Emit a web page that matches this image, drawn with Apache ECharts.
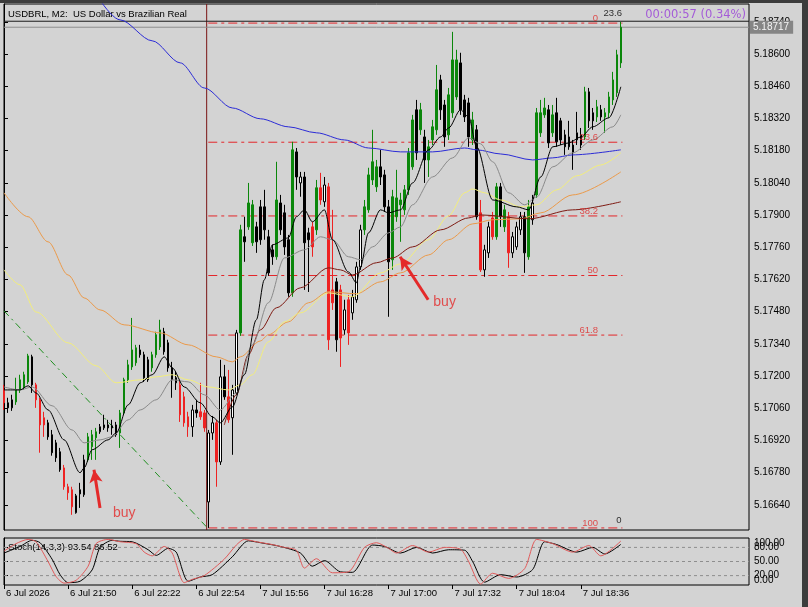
<!DOCTYPE html>
<html><head><meta charset="utf-8">
<script src="https://cdn.jsdelivr.net/npm/echarts@6/dist/echarts.min.js"></script>
<style>html,body{margin:0;padding:0;background:#d3d3d3}#c{width:808px;height:607px}</style>
</head><body><div id="c"></div>
<script>
// ---------- DATA ----------
// candles: [open, close, low, high]
const ohlc = [
[5.17140,5.17084,5.17053,5.17162],[5.17084,5.17062,5.17040,5.17106],[5.17062,5.17097,5.17049,5.17119],[5.17088,5.17140,5.17075,5.17193],[5.17140,5.17184,5.17127,5.17206],
[5.17153,5.17206,5.17140,5.17219],[5.17175,5.17288,5.17166,5.17297],[5.17284,5.17162,5.17127,5.17293],[5.17162,5.17097,5.17062,5.17171],[5.17097,5.16988,5.16867,5.17106],
[5.17019,5.16988,5.16936,5.17045],[5.16997,5.16936,5.16923,5.17010],[5.16945,5.16867,5.16854,5.16966],[5.16910,5.16845,5.16827,5.16923],[5.16871,5.16793,5.16784,5.16888],
[5.16801,5.16719,5.16706,5.16814],[5.16719,5.16693,5.16662,5.16732],[5.16706,5.16632,5.16597,5.16719],[5.16606,5.16680,5.16602,5.16688],[5.16706,5.16688,5.16627,5.16736],
[5.16684,5.16836,5.16675,5.16858],[5.16836,5.16936,5.16827,5.16953],[5.16893,5.16945,5.16836,5.16966],[5.16932,5.16958,5.16836,5.16975],[5.16958,5.16980,5.16949,5.16992],
[5.16975,5.16988,5.16966,5.17032],[5.16988,5.16975,5.16958,5.17010],[5.16984,5.16975,5.16945,5.17010],[5.16988,5.16945,5.16936,5.17001],[5.16953,5.17040,5.16888,5.17053],
[5.17040,5.17184,5.17032,5.17193],[5.17184,5.17249,5.17171,5.17271],[5.17240,5.17314,5.17227,5.17453],[5.17258,5.17323,5.17245,5.17336],[5.17314,5.17293,5.17280,5.17336],
[5.17293,5.17193,5.17175,5.17306],[5.17271,5.17184,5.17175,5.17284],[5.17236,5.17293,5.17219,5.17306],[5.17293,5.17380,5.17280,5.17393],[5.17327,5.17401,5.17314,5.17445],
[5.17393,5.17306,5.17293,5.17410],[5.17345,5.17236,5.17219,5.17358],[5.17236,5.17184,5.17106,5.17262],[5.17193,5.17171,5.17140,5.17219],[5.17162,5.17032,5.17001,5.17184],
[5.17110,5.16997,5.16980,5.17132],[5.17023,5.16980,5.16936,5.17045],[5.16980,5.17053,5.16936,5.17075],[5.17053,5.17040,5.17019,5.17097],[5.17045,5.17023,5.17010,5.17171],
[5.17040,5.16975,5.16958,5.17053],[5.16653,5.16953,5.16540,5.16966],[5.16953,5.16997,5.16923,5.17027],[5.16997,5.16827,5.16719,5.17010],[5.16827,5.17197,5.16814,5.17271],
[5.17197,5.17110,5.17097,5.17249],[5.17110,5.17010,5.16997,5.17227],[5.17019,5.17140,5.16858,5.17162],[5.17127,5.17388,5.17119,5.17401],[5.17388,5.17836,5.17375,5.17858],
[5.17806,5.17784,5.17697,5.17893],[5.17849,5.17953,5.17836,5.18040],[5.17780,5.17945,5.17766,5.17966],[5.17849,5.17784,5.17736,5.17871],[5.17936,5.17793,5.17771,5.17966],
[5.17936,5.17836,5.17793,5.18010],[5.17806,5.17649,5.17636,5.17836],[5.17749,5.17719,5.17684,5.17771],[5.17719,5.17966,5.17706,5.18132],[5.17953,5.17836,5.17814,5.17988],
[5.17910,5.17762,5.17727,5.17945],[5.17793,5.17562,5.17545,5.17814],[5.17562,5.18184,5.17545,5.18219],[5.18175,5.18066,5.18010,5.18192],[5.18040,5.18066,5.17980,5.18088],
[5.18066,5.17780,5.17575,5.18088],[5.17823,5.17793,5.17566,5.17845],[5.17849,5.17762,5.17719,5.17871],[5.17836,5.18019,5.17814,5.18053],[5.18019,5.17966,5.17945,5.18084],
[5.17958,5.18031,5.17936,5.18066],[5.18023,5.17358,5.17314,5.18040],[5.17575,5.17519,5.17488,5.17923],[5.17610,5.17358,5.17306,5.17627],[5.17575,5.17366,5.17240,5.17597],
[5.17401,5.17488,5.17380,5.17532],[5.17532,5.17388,5.17336,5.17553],[5.17475,5.17545,5.17445,5.17575],[5.17532,5.17675,5.17519,5.17697],[5.17675,5.17836,5.17662,5.17858],
[5.17836,5.17936,5.17814,5.17966],[5.17923,5.18075,5.17910,5.18106],[5.18053,5.18132,5.18031,5.18271],[5.18023,5.18110,5.18001,5.18140],[5.18110,5.18066,5.18031,5.18184],
[5.18075,5.17936,5.17914,5.18097],[5.17936,5.17697,5.17458,5.17966],[5.17706,5.17980,5.17662,5.18010],[5.17893,5.17975,5.17871,5.18097],[5.17945,5.17966,5.17784,5.17997],
[5.17923,5.18010,5.17901,5.18031],[5.18010,5.18171,5.17988,5.18192],[5.18110,5.18314,5.18097,5.18336],[5.18358,5.18171,5.18140,5.18401],[5.18271,5.18358,5.18249,5.18388],
[5.18240,5.18140,5.18040,5.18271],[5.18140,5.18197,5.18066,5.18227],[5.18227,5.18284,5.18205,5.18314],[5.18271,5.18445,5.18249,5.18553],[5.18488,5.18358,5.18314,5.18510],
[5.18379,5.18240,5.18197,5.18401],[5.18249,5.18423,5.18227,5.18453],[5.18345,5.18575,5.18323,5.18697],[5.18414,5.18575,5.18401,5.18619],[5.18562,5.18358,5.18336,5.18606],
[5.18401,5.18327,5.18305,5.18423],[5.18388,5.18240,5.18197,5.18410],[5.18227,5.18314,5.18205,5.18349],[5.18271,5.17893,5.17880,5.18292],[5.17910,5.17662,5.17653,5.17966],
[5.17662,5.17749,5.17632,5.17771],[5.17736,5.17849,5.17714,5.17871],[5.17888,5.17806,5.17793,5.17914],[5.17806,5.18023,5.17793,5.18040],[5.18023,5.17893,5.17849,5.18040],
[5.17849,5.17923,5.17827,5.17945],[5.17893,5.17736,5.17671,5.17914],[5.17736,5.17806,5.17714,5.17827],[5.17762,5.17849,5.17749,5.17871],[5.17836,5.17893,5.17814,5.17914],
[5.17893,5.17736,5.17649,5.17914],[5.17719,5.17936,5.17706,5.17966],[5.17880,5.17953,5.17858,5.17988],[5.17988,5.18345,5.17975,5.18366],[5.18258,5.18345,5.18240,5.18401],
[5.18336,5.18366,5.18323,5.18410],[5.18358,5.18214,5.18192,5.18379],[5.18258,5.18336,5.18240,5.18379],[5.18345,5.18219,5.18197,5.18410],[5.18310,5.18227,5.18205,5.18323],
[5.18249,5.18197,5.18162,5.18271],[5.18240,5.18197,5.18184,5.18310],[5.18205,5.18171,5.18097,5.18227],[5.18227,5.18258,5.18205,5.18349],[5.18205,5.18249,5.18184,5.18279],
[5.18240,5.18436,5.18227,5.18458],[5.18436,5.18310,5.18279,5.18453],[5.18345,5.18310,5.18271,5.18366],[5.18327,5.18371,5.18305,5.18401],[5.18358,5.18327,5.18310,5.18379],
[5.18327,5.18345,5.18258,5.18366],[5.18345,5.18414,5.18323,5.18436],[5.18401,5.18488,5.18379,5.18523],[5.18432,5.18597,5.18414,5.18619],[5.18562,5.18717,5.18540,5.18740]
];
// trend signal painted on each bar: 1 up (green), -1 down (red), 0 none
const signal = [
-1,0,0,1,1,1,1,0,-1,-1, -1,0,0,0,0,-1,-1,-1,0,0, 0,1,1,1,0,0,0,0,0,1, 1,1,1,1,0,0,0,1,1,1,
0,0,0,0,-1,-1,-1,0,0,-1, -1,0,0,-1,0,0,-1,0,0,1, 0,1,1,0,0,0,0,0,1,0, 0,0,1,0,0,0,0,-1,1,-1,
0,-1,-1,0,-1,0,-1,0,0,0, 1,1,1,1,0,0,0,1,1,1, 1,1,1,0,1,0,1,1,1,0, 0,1,1,1,0,0,0,1,0,-1,
0,0,-1,1,0,1,-1,0,0,0, 0,1,0,1,1,1,0,1,0,0, 0,0,0,0,0,1,0,0,1,0, 1,1,1,1,1
];
// moving averages: [bar index, price]
const maBlue = [[20,5.18944],[29,5.18749],[37,5.18658],[44,5.18562],[50,5.18453],[57,5.18366],[64,5.18319],[71,5.18284],[78,5.18258],[85,5.18227],[91,5.18192],[99,5.18175],[107,5.18175],[115,5.18192],[118,5.18184],[124,5.18166],[132,5.18140],[137,5.18149],[142,5.18162],[154,5.18184]];
const maOrange = [[0,5.17997],[6,5.17893],[11,5.17784],[16,5.17640],[20,5.17540],[24,5.17488],[30,5.17423],[39,5.17388],[46,5.17336],[53,5.17284],[57,5.17262],[59,5.17284],[64,5.17353],[66,5.17380],[71,5.17436],[76,5.17519],[81,5.17567],[88,5.17558],[94,5.17610],[99,5.17649],[106,5.17727],[111,5.17793],[117,5.17862],[122,5.17880],[129,5.17884],[134,5.17910],[142,5.17988],[154,5.18088]];
const maYellow = [[0,5.17662],[4,5.17597],[8,5.17479],[16,5.17345],[23,5.17245],[28,5.17171],[34,5.17184],[38,5.17197],[42,5.17206],[46,5.17184],[51,5.17153],[56,5.17140],[59,5.17162],[62,5.17206],[66,5.17349],[70,5.17436],[74,5.17475],[81,5.17562],[87,5.17545],[94,5.17649],[99,5.17688],[106,5.17793],[111,5.17897],[115,5.17997],[117,5.18014],[120,5.17997],[124,5.17966],[129,5.17936],[133,5.17945],[138,5.18010],[143,5.18071],[149,5.18118],[154,5.18171]];
const maBrown = [[55,5.16988],[58,5.17119],[61,5.17293],[64,5.17401],[68,5.17497],[74,5.17584],[81,5.17671],[84,5.17662],[87,5.17640],[93,5.17693],[97,5.17714],[102,5.17762],[109,5.17836],[116,5.17888],[119,5.17901],[131,5.17884],[142,5.17923],[154,5.17958]];
const maGray = [[0,5.17153],[4,5.17140],[7,5.17153],[12,5.17071],[17,5.16966],[20,5.16910],[24,5.16923],[27,5.16936],[31,5.17010],[34,5.17053],[38,5.17097],[42,5.17184],[46,5.17175],[50,5.17119],[54,5.17053],[58,5.17127],[62,5.17336],[66,5.17519],[70,5.17714],[75,5.17749],[79,5.17806],[82,5.17793],[86,5.17719],[89,5.17706],[92,5.17762],[96,5.17823],[99,5.17849],[102,5.17945],[107,5.18066],[112,5.18149],[116,5.18236],[119,5.18210],[122,5.18132],[126,5.17997],[130,5.17945],[133,5.17979],[137,5.18110],[142,5.18171],[147,5.18227],[152,5.18284],[154,5.18336]];
const maBlack = [[0,5.17140],[4,5.17140],[6,5.17158],[8,5.17127],[11,5.17053],[15,5.16923],[19,5.16780],[20,5.16801],[22,5.16880],[26,5.16923],[28,5.16953],[31,5.17075],[34,5.17171],[37,5.17206],[40,5.17284],[42,5.17236],[45,5.17153],[49,5.17084],[52,5.17023],[54,5.16997],[57,5.17066],[60,5.17206],[63,5.17445],[65,5.17619],[67,5.17771],[71,5.17801],[73,5.17893],[75,5.17923],[77,5.17871],[80,5.17923],[82,5.17793],[86,5.17653],[88,5.17606],[89,5.17675],[91,5.17823],[94,5.17923],[96,5.17910],[99,5.17923],[102,5.18040],[106,5.18184],[109,5.18240],[111,5.18279],[114,5.18358],[116,5.18327],[118,5.18197],[122,5.17966],[128,5.17936],[131,5.17923],[134,5.18066],[137,5.18197],[141,5.18214],[144,5.18240],[147,5.18284],[151,5.18323],[154,5.18458]];
// stochastic (14,3,3): [bar index, value]
const stochMain = [[0,72],[3,88],[6,97],[8,92],[11,50],[13,18],[15,4],[18,10],[21,40],[23,88],[26,97],[29,92],[33,88],[35,70],[37,62],[40,82],[42,68],[45,5],[47,12],[50,20],[55,55],[58,85],[60,97],[63,92],[67,86],[70,80],[73,74],[75,36],[78,56],[82,26],[86,28],[90,80],[93,90],[96,78],[98,68],[102,84],[106,70],[110,80],[114,76],[116,50],[119,2],[122,25],[126,14],[130,35],[133,97],[137,88],[142,70],[146,84],[149,62],[154,93.54]];
const stochSignal = [[0,68],[4,82],[7,95],[9,90],[12,55],[14,22],[16,5],[19,8],[22,32],[24,80],[27,95],[29,93],[32,92],[36,75],[38,63],[41,78],[43,70],[46,8],[49,17],[52,22],[57,60],[61,94],[64,90],[69,82],[74,68],[77,40],[80,52],[84,28],[87,27],[92,85],[95,82],[99,68],[103,80],[107,68],[111,75],[115,74],[117,50],[120,6],[124,22],[128,17],[132,33],[135,92],[138,86],[143,70],[147,80],[150,66],[154,86.52]];
const stochLevels = [20, 50, 80];
const stochBounds = [0, 100];
// price axis tick labels
const priceTicks = [5.16640,5.16780,5.16920,5.17060,5.17200,5.17340,5.17480,5.17620,5.17760,5.17900,5.18040,5.18180,5.18320,5.18460,5.18600,5.18740];
// fibonacci retracement
const fibHigh = 5.18735, fibLow = 5.16540, fibFrom = 51, fibTo = 154.4;
const fibLevels = [0, 23.6, 38.2, 50, 61.8, 100];
const fibExtraText = [['23.6', 154.3, 5.18755], ['0', 154.2, 5.16553]];
// trend line and annotations
const trendLine = [[0, 5.17484], [50.8, 5.16540]];
const arrows = [[23.97, 5.16627, 22.47, 5.16793], [105.9, 5.17532, 98.9, 5.17719]];
const notes = [['buy', 30, 5.16606], ['buy', 110, 5.17523]];
const separatorAt = 50.6;
const bidPrice = 5.18717, askPrice = 5.18743;
// time axis
const sessionDays = ['6 Jul', '7 Jul'];
const sessionStarts = ['21:18', '15:30'];
const sessionBars = [51, 104];
const firstLabel = '6 Jul 2026';
const labelEvery = 16;
const title = 'USDBRL, M2:  US Dollar vs Brazilian Real';
const timerText = '00:00:57 (0.34%)';

// ---------- BUILD ----------
const N = 187; // visible bar slots incl. empty right margin
const cats = [];
for (let s = 0; s < sessionDays.length; s++) {
  const [h, m] = sessionStarts[s].split(':').map(Number);
  const count = s === sessionDays.length - 1 ? N - cats.length : sessionBars[s];
  for (let k = 0; k < count; k++) {
    const t = h * 60 + m + 2 * k;
    cats.push(sessionDays[s] + ' ' + String(Math.floor(t / 60) % 24).padStart(2, '0') + ':' + String(t % 60).padStart(2, '0'));
  }
}
cats[0] = firstLabel;
const showIdx = (i) => i % labelEvery === 0 && i < ohlc.length;

const GREEN = '#0b870b', RED = '#ee2222';
const candleData = ohlc.map((v, i) => {
  const s = signal[i];
  let fill, border;
  if (s === 1) { fill = GREEN; border = GREEN; }
  else if (s === -1) { fill = RED; border = RED; }
  else { border = '#000'; fill = v[1] >= v[0] ? '#fff' : '#000'; }
  return { value: v, itemStyle: { color: fill, color0: fill, borderColor: border, borderColor0: border, borderColorDoji: border } };
});

const FONT = "'Liberation Sans', Arial, sans-serif";
const yMin = 5.16531, yMax = 5.18818;

function ma(data, color, z) {
  return { type: 'line', xAxisIndex: 0, yAxisIndex: 0, data, showSymbol: false, symbol: 'none',
    smooth: 0.3, smoothMonotone: 'x', lineStyle: { color, width: 1 }, z, silent: true };
}
// straight segment on the value x-axis of the price grid
function seg(data, lineStyle, z, extra) {
  return Object.assign({ type: 'line', xAxisIndex: 2, yAxisIndex: 0, data, showSymbol: false, symbol: 'none',
    lineStyle, z, silent: true, clip: true }, extra || {});
}

const fibPrice = l => fibHigh - (fibHigh - fibLow) * l / 100;
const fibText = fibLevels.map(l => ({
  value: [148.3, fibPrice(l)],
  label: { show: true, formatter: String(l), position: [0, 0], align: 'right', verticalAlign: 'bottom',
    color: '#e02a2a', fontSize: 9.5, fontFamily: FONT }
})).concat(fibExtraText.map(t => ({
  value: [t[1], t[2]],
  label: { show: true, formatter: t[0], position: [0, 0], align: 'right', verticalAlign: 'bottom',
    color: '#000', fontSize: 9.5, fontFamily: FONT }
})));

const stochAxisBase = { type: 'value', gridIndex: 1, position: 'right', min: 0, max: 100, splitLine: { show: false } };
const stochLabel = { show: true, formatter: v => v.toFixed(2), margin: 5, color: '#000', fontSize: 10, fontFamily: FONT, hideOverlap: false };

const option = {
  animation: false,
  backgroundColor: '#d3d3d3',
  grid: [
    { left: 4, top: 4, width: 745, height: 526, show: true, borderColor: '#000', borderWidth: 1, backgroundColor: 'transparent', outerBoundsMode: 'none' },
    { left: 4, top: 538, width: 745, height: 47, show: true, borderColor: '#000', borderWidth: 1, backgroundColor: 'transparent', outerBoundsMode: 'none' }
  ],
  xAxis: [
    { type: 'category', gridIndex: 0, data: cats, boundaryGap: false, axisLine: { show: false }, axisTick: { show: false }, axisLabel: { show: false }, splitLine: { show: false } },
    { type: 'category', gridIndex: 1, data: cats, boundaryGap: false, axisLine: { show: false },
      axisTick: { show: true, interval: showIdx, length: 4, lineStyle: { color: '#000' } },
      axisLabel: { show: true, interval: showIdx, align: 'left', margin: 3, color: '#000', fontSize: 9.5, fontFamily: FONT, padding: [0, 0, 0, 2] },
      splitLine: { show: false } },
    { type: 'value', gridIndex: 0, min: 0, max: N - 1, show: false },
    { type: 'value', gridIndex: 1, min: 0, max: N - 1, show: false }
  ],
  yAxis: [
    { type: 'value', gridIndex: 0, position: 'right', min: yMin, max: yMax,
      splitLine: { show: false },
      axisLine: { show: true, lineStyle: { color: '#000' } },
      axisTick: { show: true, customValues: priceTicks, length: 4, lineStyle: { color: '#000' } },
      axisLabel: { show: true, customValues: priceTicks, formatter: v => v.toFixed(5), margin: 5, color: '#000', fontSize: 10, fontFamily: FONT } },
    Object.assign({}, stochAxisBase, {
      axisLine: { show: true, lineStyle: { color: '#000' } },
      axisTick: { show: true, customValues: stochLevels, length: 4, lineStyle: { color: '#000' } },
      axisLabel: Object.assign({}, stochLabel, { customValues: stochLevels }) }),
    Object.assign({}, stochAxisBase, {
      axisLine: { show: false },
      axisTick: { show: false },
      axisLabel: Object.assign({}, stochLabel, { customValues: stochBounds, verticalAlignMaxLabel: 'top', verticalAlignMinLabel: 'bottom' }) })
  ],
  series: [
    seg([[separatorAt, yMin], [separatorAt, yMax]], { color: '#7a1414', width: 1, type: 'solid' }, 1),
    ...fibLevels.map(l => seg([[fibFrom, fibPrice(l)], [fibTo, fibPrice(l)]], { color: '#e3262a', width: 1, type: [9, 4, 3, 4] }, 1)),
    seg(trendLine, { color: '#1f8f1f', width: 1, type: [7, 4, 2, 4] }, 1),
    seg([[0, askPrice], [N - 1, askPrice]], { color: '#1a1a1a', width: 1, type: 'solid' }, 2),
    seg([[0, bidPrice], [N - 1, bidPrice]], { color: '#8c8c8c', width: 1, type: 'solid' }, 2, {
      endLabel: { show: true, formatter: bidPrice.toFixed(5), distance: 1, backgroundColor: '#858585',
        color: '#f4f4f4', fontSize: 10, fontFamily: FONT, padding: [2, 4, 1, 3] } }),
    { type: 'candlestick', xAxisIndex: 0, yAxisIndex: 0, data: candleData, barWidth: 2, z: 3, silent: true,
      itemStyle: { borderWidth: 1 } },
    ma(maBlue, '#2b2bd6', 4),
    ma(maOrange, '#eb9a4a', 4),
    ma(maYellow, '#f3ee7c', 4),
    ma(maBrown, '#7e1a12', 4),
    ma(maGray, '#8a8a8a', 4),
    ma(maBlack, '#000000', 5),
    // arrows
    { type: 'line', xAxisIndex: 2, yAxisIndex: 0, data: [], z: 6, silent: true,
      markLine: { silent: true, symbol: ['none', 'arrow'], symbolSize: [10, 13], animation: false, label: { show: false },
        lineStyle: { color: '#e42a2a', width: 3, type: 'solid' },
        data: arrows.map(a => [{ coord: [a[0], a[1]] }, { coord: [a[2], a[3]] }]) } },
    // texts
    { type: 'scatter', xAxisIndex: 2, yAxisIndex: 0, symbolSize: 0, silent: true, z: 6,
      data: fibText.concat(notes.map(n => ({ value: [n[1], n[2]],
        label: { show: true, formatter: n[0], position: 'inside', color: '#e42a2a', fontSize: 14, fontFamily: FONT } }))) },
    // stochastic levels
    ...stochLevels.map(v => ({ type: 'line', xAxisIndex: 3, yAxisIndex: 1, data: [[0, v], [N - 1, v]], showSymbol: false, symbol: 'none',
      lineStyle: { color: '#8e8e8e', width: 1, type: [3, 3] }, z: 2, silent: true })),
    { type: 'line', xAxisIndex: 1, yAxisIndex: 1, data: stochSignal, showSymbol: false, symbol: 'none', smooth: 0.25,
      lineStyle: { color: '#000', width: 1 }, z: 3, silent: true },
    { type: 'line', xAxisIndex: 1, yAxisIndex: 1, data: stochMain, showSymbol: false, symbol: 'none', smooth: 0.25,
      lineStyle: { color: '#e05a5a', width: 1 }, z: 4, silent: true }
  ],
  graphic: [
    { type: 'rect', left: 0, top: 0, shape: { width: 808, height: 3 }, style: { fill: '#3c3c3c' }, silent: true },
    { type: 'rect', left: 802, top: 0, shape: { width: 6, height: 607 }, style: { fill: '#3c3c3c' }, silent: true },
    { type: 'text', left: 8, top: 9, style: { text: title, fill: '#000', font: "9.5px " + FONT }, silent: true },
    { type: 'text', right: 62, top: 9, style: { text: timerText, fill: '#a45bd8', font: "11.5px 'DejaVu Sans', sans-serif" }, silent: true },
    { type: 'text', left: 8, top: 542, style: { text: 'Stoch(14,3,3) ' + stochMain[stochMain.length - 1][1].toFixed(2) + ' ' + stochSignal[stochSignal.length - 1][1].toFixed(2), fill: '#000', font: "9.5px " + FONT }, silent: true }
  ]
};

const chart = echarts.init(document.getElementById('c'), null, { renderer: 'canvas' });
chart.setOption(option);
</script>
</body></html>
